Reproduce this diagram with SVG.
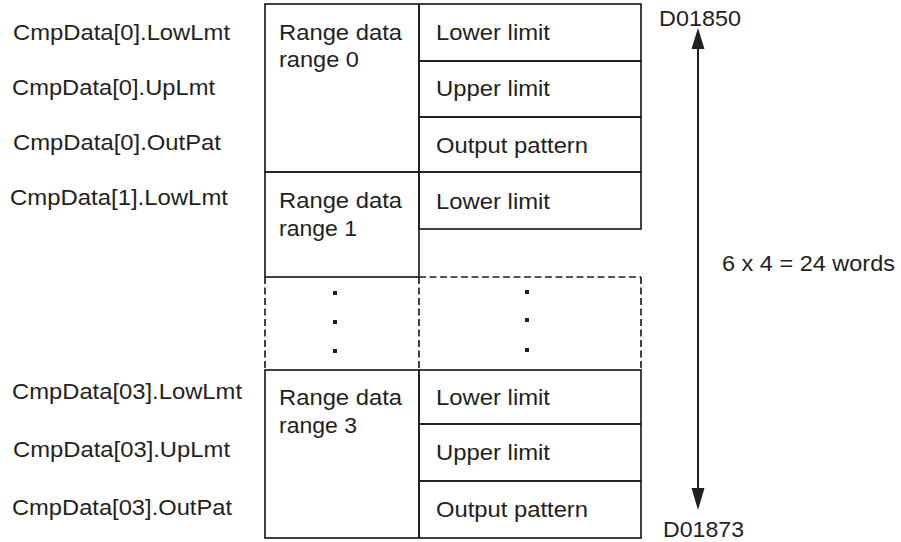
<svg xmlns="http://www.w3.org/2000/svg" width="901" height="542" viewBox="0 0 901 542">
<style>
text{font-family:"Liberation Sans",Arial,sans-serif;font-size:22px;fill:#231f20}
.s{stroke:#231f20;stroke-width:1.7;fill:none}
.d{stroke:#231f20;stroke-width:1.7;fill:none;stroke-dasharray:7 3.5}
.dot{fill:#231f20}
</style>
<rect width="901" height="542" fill="#fff"/>
<g id="labels">
<text x="13" y="40" textLength="217" lengthAdjust="spacingAndGlyphs">CmpData[0].LowLmt</text>
<text x="12" y="95" textLength="203" lengthAdjust="spacingAndGlyphs">CmpData[0].UpLmt</text>
<text x="13" y="150" textLength="208" lengthAdjust="spacingAndGlyphs">CmpData[0].OutPat</text>
<text x="10" y="205" textLength="218" lengthAdjust="spacingAndGlyphs">CmpData[1].LowLmt</text>
<text x="12" y="399" textLength="230" lengthAdjust="spacingAndGlyphs">CmpData[03].LowLmt</text>
<text x="13" y="457" textLength="217" lengthAdjust="spacingAndGlyphs">CmpData[03].UpLmt</text>
<text x="12" y="515" textLength="220" lengthAdjust="spacingAndGlyphs">CmpData[03].OutPat</text>
</g>
<g id="range0">
<rect class="s" x="265" y="4" width="154" height="168"/>
<text x="279" y="40" textLength="123" lengthAdjust="spacingAndGlyphs">Range data</text>
<text x="279" y="67" textLength="80" lengthAdjust="spacingAndGlyphs">range 0</text>
</g>
<g id="r0-lower"><rect class="s" x="419" y="4" width="222" height="57"/><text x="436" y="40" textLength="114" lengthAdjust="spacingAndGlyphs">Lower limit</text></g>
<g id="r0-upper"><rect class="s" x="419" y="61" width="222" height="56"/><text x="436" y="96" textLength="114" lengthAdjust="spacingAndGlyphs">Upper limit</text></g>
<g id="r0-out"><rect class="s" x="419" y="117" width="222" height="55"/><text x="436" y="153" textLength="152" lengthAdjust="spacingAndGlyphs">Output pattern</text></g>
<g id="range1">
<rect class="s" x="265" y="172" width="154" height="105"/>
<text x="279" y="208" textLength="123" lengthAdjust="spacingAndGlyphs">Range data</text>
<text x="279" y="236" textLength="78" lengthAdjust="spacingAndGlyphs">range 1</text>
</g>
<g id="r1-lower"><rect class="s" x="419" y="172" width="222" height="57"/><text x="436" y="209" textLength="114" lengthAdjust="spacingAndGlyphs">Lower limit</text></g>
<g id="ellipsis">
<path class="d" d="M265,277V370M419,277V370M641,277V370M419,277H641"/>
<rect class="dot" x="333" y="291" width="4" height="4"/>
<rect class="dot" x="333" y="320" width="4" height="4"/>
<rect class="dot" x="333" y="349" width="4" height="4"/>
<rect class="dot" x="525" y="290" width="4" height="4"/>
<rect class="dot" x="525" y="318" width="4" height="4"/>
<rect class="dot" x="525" y="348" width="4" height="4"/>
</g>
<g id="range3">
<rect class="s" x="265" y="370" width="154" height="168"/>
<text x="279" y="405" textLength="123" lengthAdjust="spacingAndGlyphs">Range data</text>
<text x="279" y="433" textLength="78" lengthAdjust="spacingAndGlyphs">range 3</text>
</g>
<g id="r3-lower"><rect class="s" x="419" y="370" width="222" height="54"/><text x="436" y="405" textLength="114" lengthAdjust="spacingAndGlyphs">Lower limit</text></g>
<g id="r3-upper"><rect class="s" x="419" y="424" width="222" height="57"/><text x="436" y="460" textLength="114" lengthAdjust="spacingAndGlyphs">Upper limit</text></g>
<g id="r3-out"><rect class="s" x="419" y="481" width="222" height="57"/><text x="436" y="517" textLength="152" lengthAdjust="spacingAndGlyphs">Output pattern</text></g>
<g id="connectors">
<line x1="698" y1="45" x2="698" y2="493" stroke="#231f20" stroke-width="2"/>
<polygon points="698,28 691.5,49 704.5,49" fill="#231f20"/>
<polygon points="698,510 691.5,488 704.5,488" fill="#231f20"/>
</g>
<g id="addr">
<text x="659" y="26" textLength="82" lengthAdjust="spacingAndGlyphs">D01850</text>
<text x="663" y="537" textLength="81" lengthAdjust="spacingAndGlyphs">D01873</text>
<text x="722" y="271" textLength="173" lengthAdjust="spacingAndGlyphs">6 x 4 = 24 words</text>
</g>
</svg>
